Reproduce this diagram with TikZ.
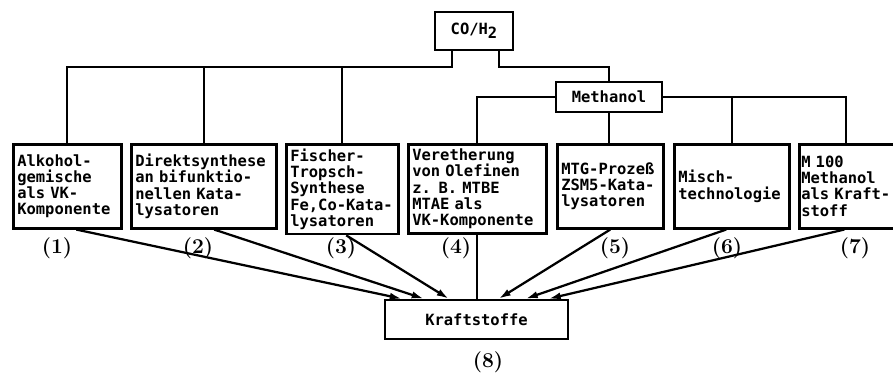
\documentclass[tikz,border=0pt]{standalone}
\usepackage{fontspec}
\setmonofont{DejaVu Sans Mono}
\usetikzlibrary{arrows.meta}

\begin{document}
\begin{tikzpicture}[x=0.025cm,y=-0.025cm,line width=1.6pt,
  every node/.style={font=\ttfamily\bfseries\fontsize{11}{11.5}\selectfont},
  stoff/.style={draw,line width=1.8pt,align=left,inner xsep=0.1cm,minimum height=2.1cm,anchor=north west},
  hub/.style={draw,line width=1.8pt,inner sep=0pt},
  nr/.style={font=\rmfamily\bfseries\fontsize{15}{18}\selectfont},
  pfeil/.style={-{Latex[length=3mm,width=1.8mm]}}]
\useasboundingbox (0,0) rectangle (893,375);
% Ausgangsstoffe
\node[hub,minimum width=1.95cm,minimum height=0.95cm] (co) at (474,31) {CO/H\raisebox{-0.5ex}{2}};
\node[hub,minimum width=2.65cm,minimum height=0.75cm] (meth) at (609,97) {Methanol};
\node[hub,minimum width=4.575cm,minimum height=0.975cm] (kraft) at (476.5,319.5) {Kraftstoffe};
% Verfahren
\node[stoff,text width=2.5cm] (b1) at (12,143) {Alkohol-\\gemische\\als VK-\\Komponente};
\node[stoff,text width=3.425cm] (b2) at (130,143) {Direktsynthese\\an bifunktio-\\nellen Kata-\\lysatoren};
\node[stoff,text width=2.6cm] (b3) at (285,143) {Fischer-\\Tropsch-\\Synthese\\Fe,Co-Kata-\\lysatoren};
\node[stoff,text width=3.25cm] (b4) at (407,143) {Veretherung\\von Olefinen\\z. B. MTBE\\MTAE als\\VK-Komponente};
\node[stoff,text width=2.45cm] (b5) at (556,143) {MTG-Prozeß\\ZSM5-Kata-\\lysatoren};
\node[stoff,text width=2.675cm] (b6) at (673,143) {Misch-\\technologie};
\node[stoff,text width=2.45cm,inner xsep=0.05cm] (b7) at (798,143) {M 100\\Methanol\\als Kraft-\\stoff};
% Verzweigung
\coordinate (lbar) at (0,67);
\draw ([xshift=0.45cm]co.south west) |- (b1.north |- lbar) -- (b1.north);
\draw (b2.north) -- (b2.north |- lbar);
\draw (b3.north) -- (b3.north |- lbar);
\draw ([xshift=-0.375cm]co.south east) |- (meth.north |- lbar) -- (meth.north);
\draw (b4.north) |- (meth.west);
\draw (meth.east) -| ([xshift=-0.1cm]b7.north);
\draw (b6.north) -- (b6.north |- meth.east);
\draw (meth.south) -- (meth.south |- b5.north);
% zu den Kraftstoffen
\draw (b4.south) -- (b4.south |- kraft.north);
\draw[pfeil] ([xshift=0.225cm]b1.south) -- ([xshift=0.45cm]kraft.north west);
\draw[pfeil] ([xshift=0.26cm]b2.south) -- ([xshift=1.0cm]kraft.north west);
\draw[pfeil] ([xshift=0.1cm]b3.south) -- ([xshift=1.625cm]kraft.north west);
\draw[pfeil] (b5.south) -- ([xshift=2.875cm]kraft.north west);
\draw[pfeil] ([xshift=-0.14cm]b6.south) -- ([xshift=3.55cm]kraft.north west);
\draw[pfeil] ([xshift=-0.15cm]b7.south) -- ([xshift=4.125cm]kraft.north west);
% Nummern
\node[nr] (l1) at (57,248) {(1)};
\node[nr] (l2) at (198,248) {(2)};
\node[nr] (l3) at (341,248) {(3)};
\node[nr] (l4) at (456,248) {(4)};
\node[nr] (l5) at (615,248) {(5)};
\node[nr] (l6) at (727,248) {(6)};
\node[nr] (l7) at (855,248) {(7)};
\node[nr] (l8) at (488,362) {(8)};
\end{tikzpicture}
\end{document}
